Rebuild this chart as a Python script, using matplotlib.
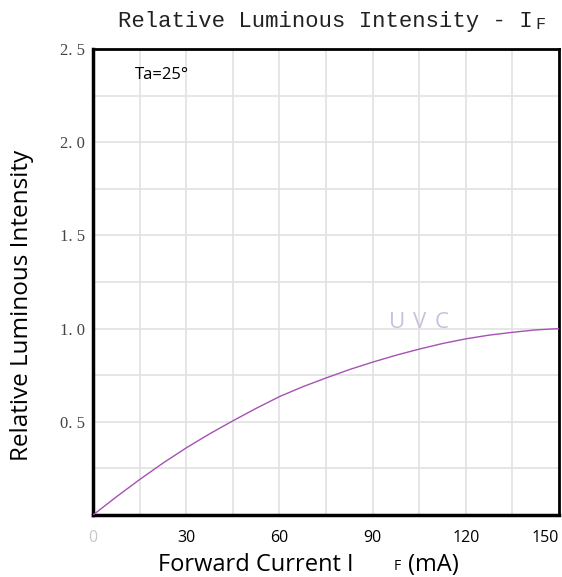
import matplotlib
matplotlib.use("Agg")
import matplotlib.pyplot as plt
import numpy as np

# forward current (mA) vs relative luminous intensity
current_ma = [0, 7.5, 15, 22.5, 30, 37.5, 45, 52.5, 60, 67.5, 75, 82.5,
              90, 97.5, 105, 112.5, 120, 127.5, 135, 142.5, 150]
rel_intensity = [0.0, 0.097, 0.19, 0.278, 0.36, 0.435, 0.505, 0.572, 0.635,
                 0.688, 0.735, 0.78, 0.82, 0.857, 0.89, 0.92, 0.945, 0.965,
                 0.98, 0.993, 1.0]

x_ticks = [0, 15, 30, 45, 60, 75, 90, 105, 120, 135, 150]
x_labels = ["0", "", "30", "", "60", "", "90", "", "120", "", "150"]
y_ticks = [0, 0.25, 0.5, 0.75, 1.0, 1.25, 1.5, 1.75, 2.0, 2.25, 2.5]
y_labels = ["", "", "0. 5", "", "1. 0", "", "1. 5", "", "2. 0", "", "2. 5"]

sans = "Open Sans"
mono = "Liberation Mono"
serif = "Liberation Serif"

fig = plt.figure(figsize=(5.62, 5.77), dpi=100)
ax = fig.add_axes([0.1655, 0.1075, 0.8292, 0.8075])

ax.plot(current_ma, rel_intensity, color="#a552b3", lw=1.0, zorder=3)

ax.set_xlim(0, 150)
ax.set_ylim(0, 2.5)
ax.set_xticks(x_ticks)
ax.set_xticklabels(x_labels, fontfamily=sans, fontsize=11.5)
ax.set_yticks(y_ticks)
ax.set_yticklabels(y_labels, fontfamily=serif, fontsize=12, color="#444444")
ax.tick_params(axis="x", length=0, pad=11)
ax.tick_params(axis="y", length=0, pad=6)
ax.grid(True, color="#e2e2e2", lw=1.2)
ax.set_axisbelow(True)

xl = ax.get_xticklabels()
xl[0].set_color("#c8c8c8")
xl[-1].set_horizontalalignment("right")
xl[-1].set_x(151)

for side, w in [("left", 2.5), ("bottom", 2.5), ("top", 2.0), ("right", 2.0)]:
    ax.spines[side].set_linewidth(w)
    ax.spines[side].set_color("black")

ax.text(0.09, 0.945, "Ta=25°", transform=ax.transAxes, fontfamily=sans,
        fontsize=12, va="center", ha="left")
for i, ch in enumerate("UVC"):
    ax.annotate(ch, xy=(105, 1.035), xytext=((i - 1) * 16, 0),
                textcoords="offset points", color="#cbbfdd", fontfamily=sans,
                fontsize=16, ha="center", va="center")

# title with small F
t = fig.text(0.21, 0.962, "Relative Luminous Intensity - I", fontfamily=mono,
             fontsize=16, color="#222222", va="center", ha="left")
fig.canvas.draw()
bb = t.get_window_extent()
fig.text(bb.x1 / fig.bbox.width + 0.004, 0.957, "F", fontfamily=mono,
         fontsize=12, color="#222222", va="center", ha="left")

# axis labels
fig.text(0.039, 0.47, "Relative Luminous Intensity", rotation=90,
         fontfamily=sans, fontsize=17.5, va="center", ha="center")
fig.text(0.281, 0.021, "Forward Current I", fontfamily=sans, fontsize=17,
         va="center", ha="left")
fig.text(0.700, 0.018, "F", fontfamily=sans, fontsize=10, va="center", ha="left")
fig.text(0.726, 0.021, "(mA)", fontfamily=sans, fontsize=17, va="center", ha="left")

fig.savefig("out.png", dpi=100)
